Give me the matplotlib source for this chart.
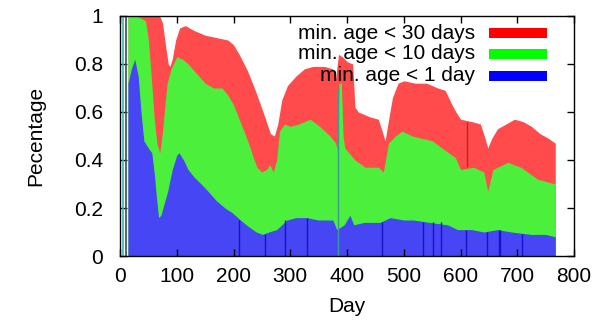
import matplotlib
matplotlib.use("Agg")
import matplotlib.pyplot as plt
from matplotlib.patches import Rectangle

plt.rcParams['font.family'] = ['Liberation Sans', 'DejaVu Sans']

# ---- data (day, share of active users) ----
red_days = [14, 30, 45, 60, 70, 75, 80, 85, 88, 92, 98, 105, 115, 130, 150, 170,
            190, 200, 210, 225, 240, 255, 265, 272, 278, 285, 295, 310, 325, 340,
            360, 375, 380, 385, 392, 400, 410, 414, 420, 440, 455, 462, 467, 472,
            480, 490, 500, 520, 540, 560, 573, 585, 592, 600, 620, 635, 642, 648,
            655, 665, 680, 695, 710, 725, 740, 755, 767]
red_vals = [1.0, 1.0, 1.0, 1.0, 1.0, 0.97, 0.88, 0.80, 0.79, 0.82, 0.90, 0.95, 0.96,
            0.94, 0.92, 0.91, 0.90, 0.88, 0.84, 0.77, 0.68, 0.58, 0.51, 0.50, 0.55,
            0.65, 0.71, 0.75, 0.78, 0.79, 0.79, 0.78, 0.74, 0.84, 0.83, 0.81, 0.80,
            0.62, 0.60, 0.58, 0.57, 0.52, 0.48, 0.55, 0.66, 0.72, 0.73, 0.72, 0.72,
            0.70, 0.69, 0.63, 0.60, 0.57, 0.56, 0.55, 0.50, 0.45, 0.49, 0.53, 0.55,
            0.57, 0.56, 0.54, 0.51, 0.49, 0.47]

green_days = [14, 30, 45, 50, 55, 60, 65, 70, 74, 78, 83, 90, 100, 110, 120, 135,
              150, 165, 180, 190, 200, 210, 220, 228, 235, 241, 250, 258, 264, 270,
              276, 281, 290, 300, 315, 335, 352, 370, 380, 383, 386, 390, 393, 396,
              414, 432, 455, 464, 473, 485, 497, 515, 550, 573, 591, 600, 623, 641,
              648, 657, 683, 706, 736, 767]
green_vals = [1.0, 1.0, 0.98, 0.90, 0.75, 0.58, 0.47, 0.43, 0.50, 0.60, 0.72, 0.78,
              0.83, 0.82, 0.80, 0.76, 0.72, 0.70, 0.70, 0.67, 0.63, 0.57, 0.51, 0.46,
              0.41, 0.37, 0.35, 0.36, 0.38, 0.35, 0.40, 0.52, 0.55, 0.54, 0.55, 0.57,
              0.54, 0.50, 0.47, 0.44, 0.72, 0.72, 0.50, 0.45, 0.40, 0.37, 0.37, 0.35,
              0.47, 0.50, 0.52, 0.50, 0.48, 0.44, 0.41, 0.36, 0.37, 0.35, 0.27, 0.36,
              0.39, 0.37, 0.32, 0.30]

blue_days = [14, 20, 26, 32, 37, 42, 50, 56, 61, 64, 68, 72, 78, 84, 92, 100, 104,
             112, 120, 130, 143, 155, 170, 185, 198, 212, 228, 240, 251, 262, 276,
             285, 294, 310, 329, 350, 375, 382, 395, 405, 412, 430, 458, 476, 500,
             517, 545, 577, 595, 620, 641, 665, 690, 724, 750, 767]
blue_vals = [0.72, 0.78, 0.82, 0.75, 0.60, 0.48, 0.45, 0.43, 0.33, 0.25, 0.16, 0.17,
             0.22, 0.27, 0.36, 0.42, 0.43, 0.40, 0.36, 0.33, 0.30, 0.27, 0.23, 0.20,
             0.18, 0.15, 0.12, 0.10, 0.09, 0.10, 0.11, 0.13, 0.15, 0.16, 0.16, 0.15,
             0.15, 0.11, 0.13, 0.17, 0.13, 0.14, 0.14, 0.16, 0.15, 0.15, 0.14, 0.13,
             0.11, 0.11, 0.10, 0.11, 0.10, 0.09, 0.09, 0.08]

# single days drawn as darker bars
dark_blue_days = [209, 255, 291, 330, 462, 534, 551, 566, 610, 646, 667, 670, 708]
dark_blue_tops = [0.15, 0.09, 0.15, 0.16, 0.14, 0.14, 0.14, 0.14, 0.11, 0.10, 0.11, 0.11, 0.09]
teal_days = [5, 11, 384]
teal_tops = [1.0, 1.0, 0.70]
dark_red_day = 611
dark_red_span = (0.37, 0.56)

labels = ['min. age < 30 days', 'min. age < 10 days', 'min. age < 1 day']
fill_colors = ['#ff4b4b', '#4cf03c', '#4646f5']
legend_colors = ['#ff0000', '#00ff00', '#0000ff']

fig = plt.figure(figsize=(6.10, 3.23), dpi=100)
ax = fig.add_axes([120 / 610, 67 / 323, 454 / 610, 240 / 323])

for d, v, c in zip([red_days, green_days, blue_days],
                   [red_vals, green_vals, blue_vals], fill_colors):
    ax.fill_between(d, 0, v, color=c, linewidth=0)

ax.vlines(dark_blue_days, 0, dark_blue_tops, color='#1414c8', linewidth=1.0)
ax.vlines(teal_days[:1], 0, teal_tops[:1], color='#3fb3b3', linewidth=1.2)
ax.vlines(teal_days[1:2], 0, teal_tops[1:2], color='#1e5a5a', linewidth=1.2)
ax.vlines(teal_days[2:], 0, teal_tops[2:], color='#3c9a96', linewidth=1.0)
ax.vlines([dark_red_day], dark_red_span[0], dark_red_span[1], color='#c81e1e', linewidth=1.0)

ax.set_xlim(0, 800)
ax.set_ylim(0, 1)
ax.set_xticks(range(0, 801, 100))
ax.set_yticks([0, 0.2, 0.4, 0.6, 0.8, 1.0])
ax.set_yticklabels(['0', '0.2', '0.4', '0.6', '0.8', '1'])
ax.tick_params(direction='in', top=True, right=True, length=5, width=1,
               labelsize=15)
ax.tick_params(axis='y', pad=12)
ax.tick_params(axis='x', pad=8)
for s in ax.spines.values():
    s.set_linewidth(1.0)

ax.set_xlabel('Day', fontsize=15)
ax.set_ylabel('Pecentage', fontsize=15)
ax.xaxis.set_label_coords(0.5, -0.17)
ax.yaxis.set_label_coords(-0.165, 0.5)

# legend, gnuplot style: right-aligned text, box on the right
ys = [0.929, 0.842, 0.75]
for lab, col, y in zip(labels, legend_colors, ys):
    ax.text(0.782, y, lab, transform=ax.transAxes, ha='right', va='center',
            fontsize=15)
    ax.add_patch(Rectangle((0.813, y - 0.021), 0.128, 0.042,
                           transform=ax.transAxes, color=col, linewidth=0))

fig.savefig('out.png', dpi=100)
